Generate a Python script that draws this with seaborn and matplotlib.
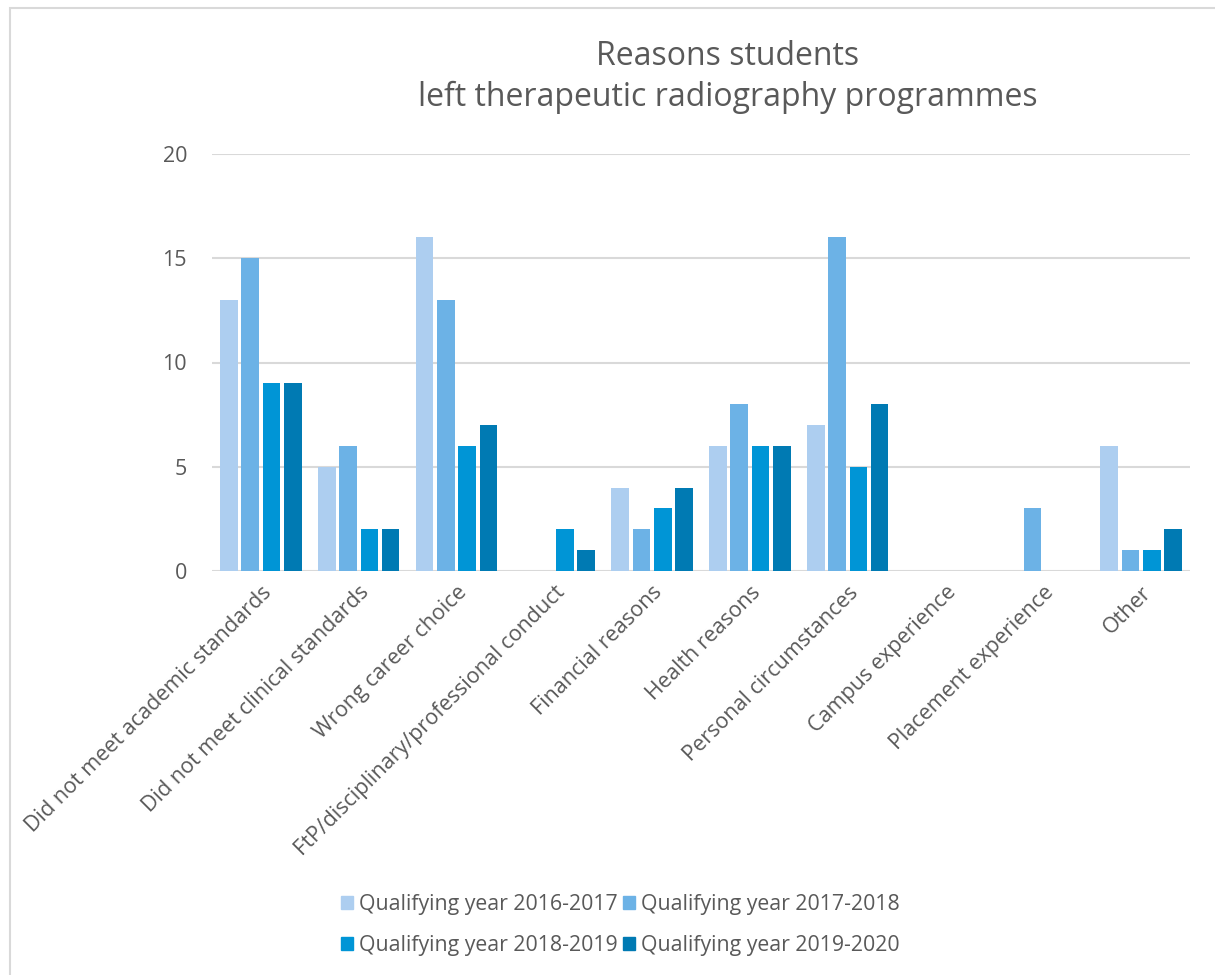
import matplotlib
matplotlib.use("Agg")
import matplotlib.pyplot as plt
from matplotlib.patches import Rectangle
import seaborn as sns
import pandas as pd

categories = [
    "Did not meet academic standards",
    "Did not meet clinical standards",
    "Wrong career choice",
    "FtP/disciplinary/professional conduct",
    "Financial reasons",
    "Health reasons",
    "Personal circumstances",
    "Campus experience",
    "Placement experience",
    "Other",
]
series_names = [
    "Qualifying year 2016-2017",
    "Qualifying year 2017-2018",
    "Qualifying year 2018-2019",
    "Qualifying year 2019-2020",
]
y2016_2017 = [13, 5, 16, 0, 4, 6, 7, 0, 0, 6]
y2017_2018 = [15, 6, 13, 0, 2, 8, 16, 0, 3, 1]
y2018_2019 = [9, 2, 6, 2, 3, 6, 5, 0, 0, 1]
y2019_2020 = [9, 2, 7, 1, 4, 6, 8, 0, 0, 2]
yticks = [0, 5, 10, 15, 20]
title = "Reasons students\nleft therapeutic radiography programmes"

colors = ["#ADCEF0", "#6CB2E6", "#0095D6", "#007AB3"]
text_color = "#595959"

rows = []
for name, vals in zip(series_names, [y2016_2017, y2017_2018, y2018_2019, y2019_2020]):
    for c, v in zip(categories, vals):
        rows.append({"Reason": c, "Series": name, "Count": v})
df = pd.DataFrame(rows)

sns.set_theme(style="white")
plt.rcParams["font.family"] = ["Open Sans", "DejaVu Sans"]

fig = plt.figure(figsize=(12.15, 9.75), dpi=100)
ax = fig.add_axes([212 / 1215, 1 - 571 / 975, (1190 - 212) / 1215, (571 - 154) / 975])

sns.barplot(data=df, x="Reason", y="Count", hue="Series", order=categories,
            hue_order=series_names, palette=colors, width=0.87, gap=0.17,
            linewidth=0, errorbar=None, ax=ax, zorder=3, saturation=1)

ax.set_ylim(0, 20)
ax.set_xlim(-0.5, len(categories) - 0.5)
ax.set_yticks(yticks)
ax.set_yticklabels([str(t) for t in yticks], fontsize=15.5, color=text_color)
ax.set_xticks(range(len(categories)))
ax.set_xticklabels(categories, rotation=45, ha="right", rotation_mode="anchor",
                   fontsize=15.5, color=text_color)
ax.tick_params(axis="y", length=0, pad=18)
ax.tick_params(axis="x", length=0, pad=8)
ax.set_xlabel("")
ax.set_ylabel("")
for s in ax.spines.values():
    s.set_visible(False)
ax.yaxis.grid(True, color="#D9D9D9", linewidth=1.5, zorder=0)
ax.set_axisbelow(True)

ax.get_legend().remove()
handles = [Rectangle((0, 0), 1, 1, color=c) for c in colors]
order = [0, 2, 1, 3]
fig.legend([handles[i] for i in order], [series_names[i] for i in order],
           loc="center", bbox_to_anchor=(620 / 1215, 1 - 925 / 975),
           ncol=2, frameon=False, fontsize=15.3, labelcolor=text_color,
           handlelength=0.6, handleheight=0.6, handletextpad=0.25, columnspacing=0.25,
           labelspacing=0.95)

fig.text(728 / 1215, 1 - 77 / 975, title, ha="center", va="center",
         fontsize=23, color=text_color, linespacing=1.3)

fig.add_artist(Rectangle((10 / 1215, -0.1), 1.2, 1 - 8 / 975 + 0.1,
                         transform=fig.transFigure, fill=False,
                         edgecolor="#D9D9D9", linewidth=1.5))

fig.savefig("out.png", dpi=100, facecolor="white")
